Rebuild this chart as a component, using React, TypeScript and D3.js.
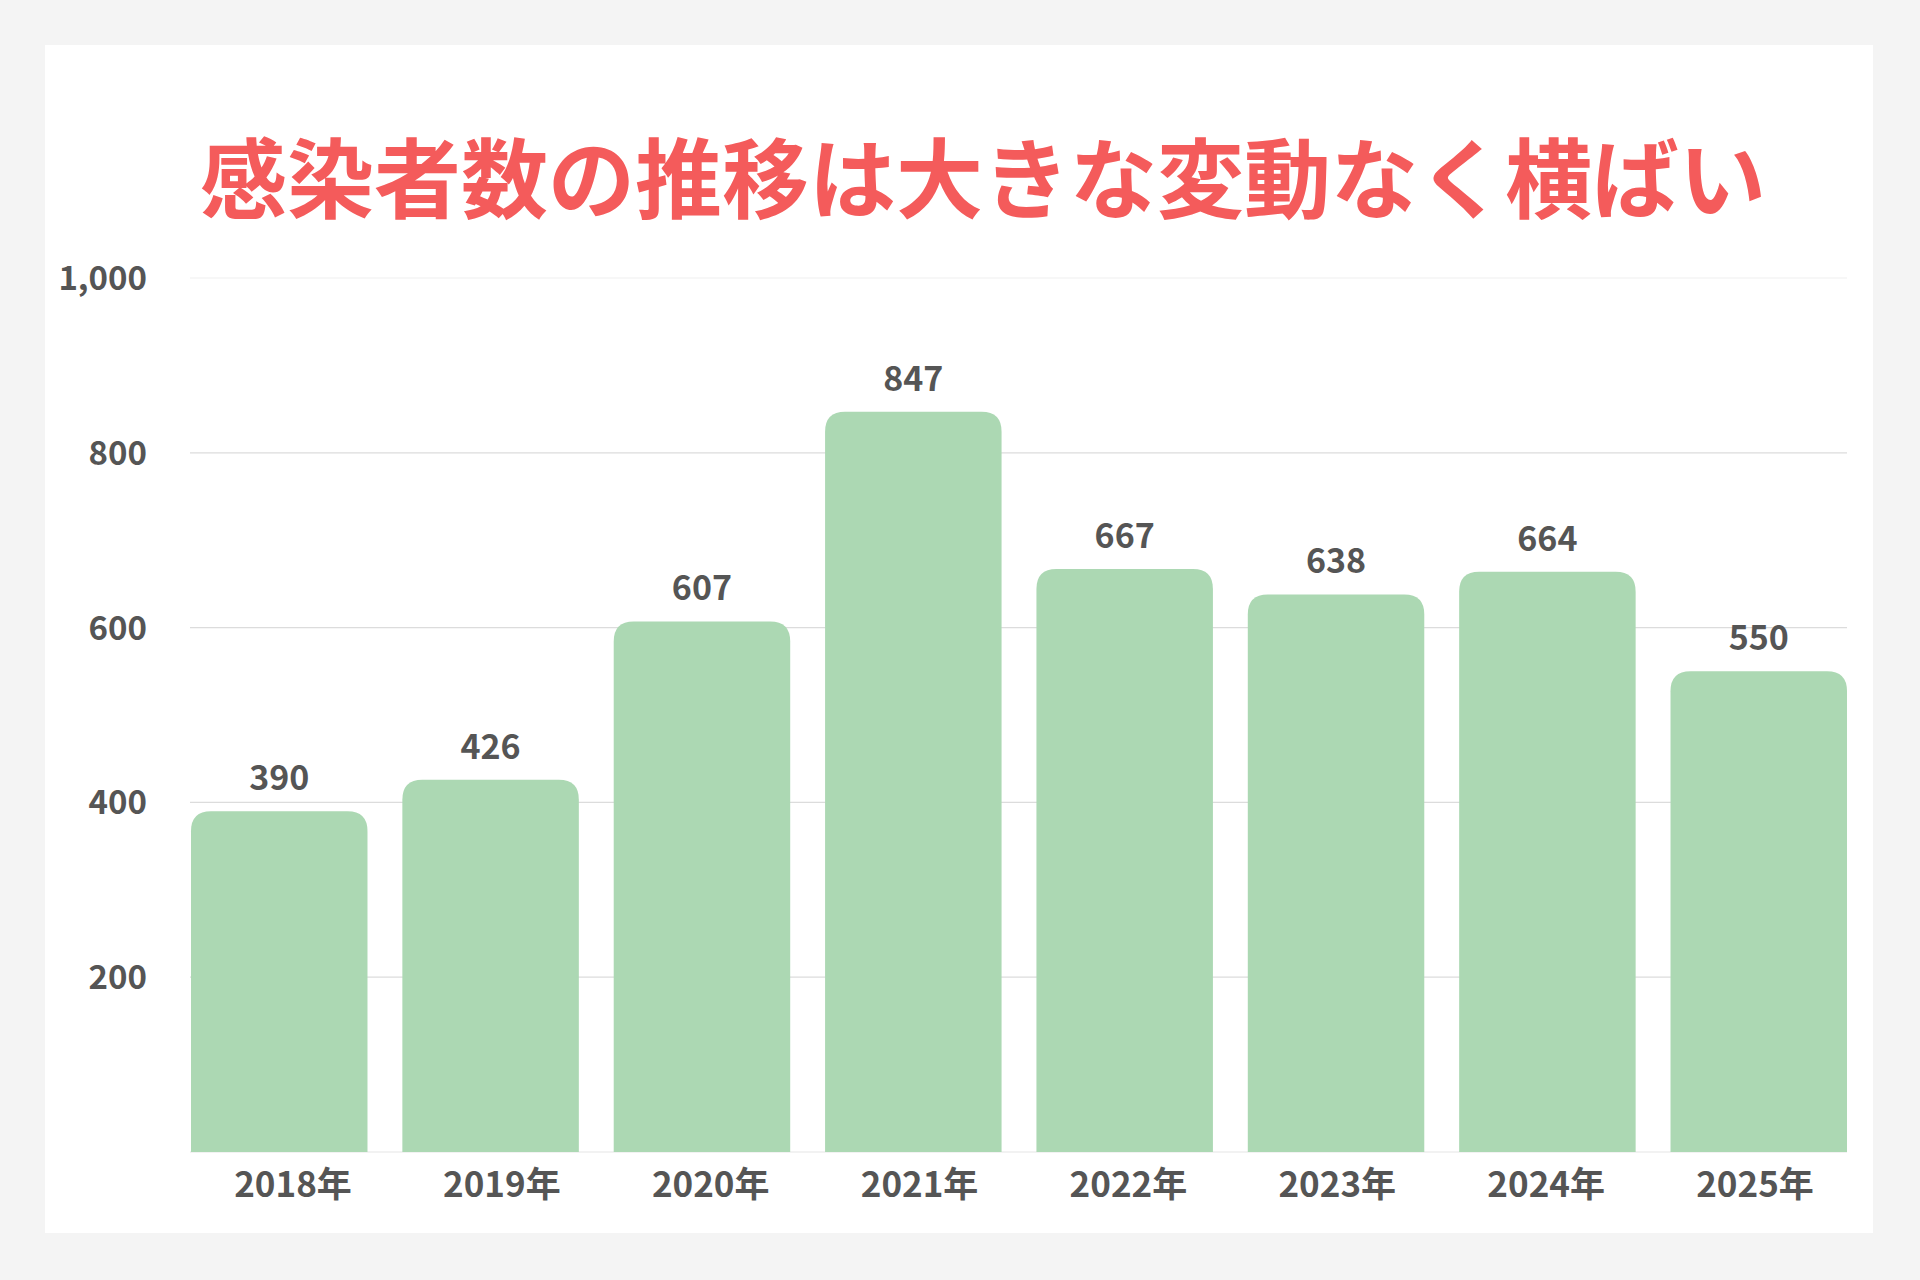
import React, { useEffect } from 'react';
import * as d3 from 'd3';

// data
const years = ['2018年', '2019年', '2020年', '2021年', '2022年', '2023年', '2024年', '2025年'];
const cases = [390, 426, 607, 847, 667, 638, 664, 550];
const yTicks = [200, 400, 600, 800, 1000];
const title = '感染者数の推移は大きな変動なく横ばい';

const W = 1920;
const H = 1280;
const FONT = '"Noto Sans CJK JP", "Noto Sans", sans-serif';

// top-rounded bar
const barPath = (x: number, y: number, w: number, h: number, r: number) => {
  const rr = Math.min(r, w / 2, h);
  return `M${x},${y + h}V${y + rr}Q${x},${y} ${x + rr},${y}H${x + w - rr}Q${x + w},${y} ${x + w},${y + rr}V${y + h}Z`;
};

const App: React.FC = () => {
  useEffect(() => {
    document.body.style.margin = '0';
  }, []);

  const x = d3.scaleBand<string>()
    .domain(years)
    .range([191, 1847])
    .paddingInner(0.165)
    .paddingOuter(0);

  // category labels sit on their own, slightly narrower spacing
  const xLabel = d3.scalePoint<string>()
    .domain(years)
    .range([293, 1755]);

  const y = d3.scaleLinear()
    .domain([0, 1000])
    .range([1152, 278]);

  return (
    <svg width={W} height={H} viewBox={`0 0 ${W} ${H}`} style={{ display: 'block' }}>
      <rect x={0} y={0} width={W} height={H} fill="#f4f4f4" />
      <rect x={45} y={45} width={1828} height={1188} fill="#ffffff" />

      <text
        x={983}
        y={212}
        textAnchor="middle"
        fontFamily={FONT}
        fontWeight={700}
        fontSize={87}
        fill="#f45b5b"
      >
        {title}
      </text>

      {/* gridlines */}
      {yTicks.map(t => (
        <line
          key={t}
          x1={190}
          x2={1847}
          y1={y(t)}
          y2={y(t)}
          stroke={t === 1000 ? '#efefef' : '#dcdcdc'}
          strokeWidth={1.2}
        />
      ))}
      <line x1={190} x2={1847} y1={y(0)} y2={y(0)} stroke="#e6e6e6" strokeWidth={1.2} />

      {/* y axis labels */}
      {yTicks.map(t => (
        <text
          key={t}
          x={147}
          y={y(t) + 12}
          textAnchor="end"
          fontFamily={FONT}
          fontWeight={700}
          fontSize={33}
          fill="#555555"
        >
          {d3.format(',')(t)}
        </text>
      ))}

      {/* bars */}
      {years.map((yr, i) => {
        const bx = x(yr) as number;
        const by = y(cases[i]);
        return (
          <path
            key={yr}
            d={barPath(bx, by, x.bandwidth(), y(0) - by, 20)}
            fill="#acd8b3"
          />
        );
      })}

      {/* value labels */}
      {years.map((yr, i) => (
        <text
          key={yr}
          x={(x(yr) as number) + x.bandwidth() / 2}
          y={y(cases[i]) - 21}
          textAnchor="middle"
          fontFamily={FONT}
          fontWeight={700}
          fontSize={34}
          fill="#555555"
        >
          {cases[i]}
        </text>
      ))}

      {/* x labels */}
      {years.map(yr => (
        <text
          key={yr}
          x={xLabel(yr) as number}
          y={1197}
          textAnchor="middle"
          fontFamily={FONT}
          fontWeight={700}
          fontSize={35}
          fill="#555555"
        >
          {yr}
        </text>
      ))}
    </svg>
  );
};

export default App;
